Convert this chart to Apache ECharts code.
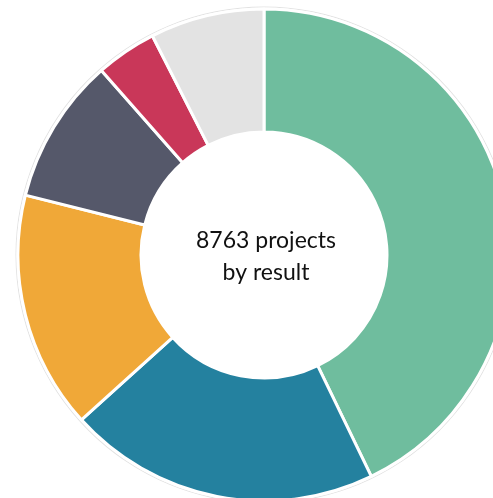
<!DOCTYPE html>
<html><head><meta charset="utf-8">
<script src="https://cdn.jsdelivr.net/npm/echarts@6/dist/echarts.min.js"></script>
<style>html,body{margin:0;padding:0;background:#fff}#c{width:493px;height:498px}</style>
</head><body><div id="c"></div>
<script>
const categories = ['Result A','Result B','Result C','Result D','Result E','Result F'];
const values = [3752, 1796, 1367, 841, 350, 657];
const colors = ['#6fbd9e','#24819f','#f0a838','#55586a','#c93759','#e3e3e3'];
const centerTitle = '8763 projects\nby result';

const chart = echarts.init(document.getElementById('c'));
chart.setOption({
  animation: false,
  series: [{
    type: 'pie',
    center: [264, 255],
    radius: [247.5, 248.5],
    silent: true,
    label: {show: false},
    labelLine: {show: false},
    itemStyle: {color: '#e2e2e2'},
    data: [{name: 'outline', value: 1}]
  }, {
    type: 'pie',
    center: [264, 255],
    radius: [123, 246],
    startAngle: 90,
    clockwise: true,
    label: {show: false},
    labelLine: {show: false},
    itemStyle: {borderColor: '#fff', borderWidth: 3},
    data: categories.map((c, i) => ({name: c, value: values[i], itemStyle: {color: colors[i]}}))
  }],
  graphic: [{
    type: 'text',
    style: {text: centerTitle, x: 266, y: 257, align: 'center', verticalAlign: 'middle',
      font: '23px Lato', lineHeight: 32, fill: '#111'}
  }]
});
</script></body></html>
